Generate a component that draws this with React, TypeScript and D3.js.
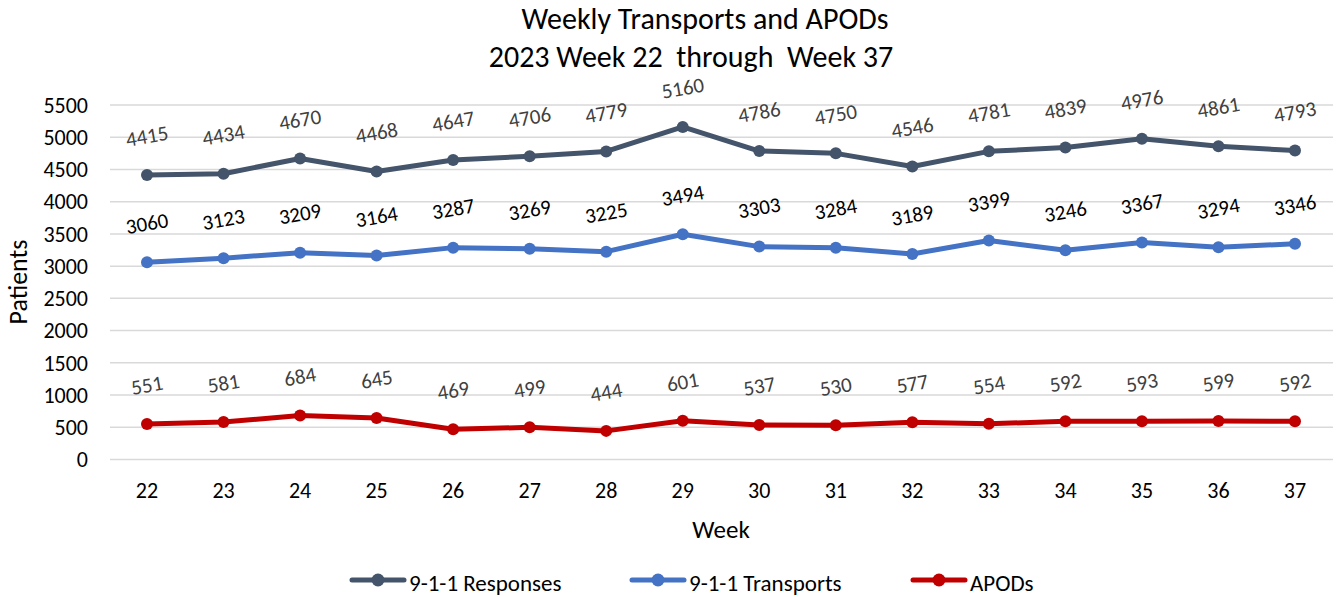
import * as d3 from 'd3'

const weeks = ['22', '23', '24', '25', '26', '27', '28', '29', '30', '31', '32', '33', '34', '35', '36', '37']
const responses = [4415, 4434, 4670, 4468, 4647, 4706, 4779, 5160, 4786, 4750, 4546, 4781, 4839, 4976, 4861, 4793]
const transports = [3060, 3123, 3209, 3164, 3287, 3269, 3225, 3494, 3303, 3284, 3189, 3399, 3246, 3367, 3294, 3346]
const apods = [551, 581, 684, 645, 469, 499, 444, 601, 537, 530, 577, 554, 592, 593, 599, 592]
const yTicks = [0, 500, 1000, 1500, 2000, 2500, 3000, 3500, 4000, 4500, 5000, 5500]

const FONT = "Carlito, Calibri, Lato, 'Liberation Sans', sans-serif"

const series = [
    { name: '9-1-1 Responses', values: responses, color: '#44546A', labelColor: '#404040' },
    { name: '9-1-1 Transports', values: transports, color: '#4472C4', labelColor: '#000000' },
    { name: 'APODs', values: apods, color: '#C00000', labelColor: '#404040' },
]

const legendX = [352, 632, 913]

export default function App() {
    const width = 1336
    const height = 597

    const x = d3.scalePoint<string>().domain(weeks).range([147, 1295])
    const y = d3.scaleLinear().domain([0, 5500]).range([459.5, 105])

    const line = d3.line<number>()
        .x((_, i) => x(weeks[i]) as number)
        .y(d => y(d))

    return (
        <svg width={width} height={height} style={{ position: 'absolute', left: 0, top: 0, background: '#fff' }}
             fontFamily={FONT}>
            <text x={705} y={29} textAnchor="middle" fontSize={30} fill="#000">Weekly Transports and APODs</text>
            <text x={691} y={67} textAnchor="middle" fontSize={30} fill="#000" style={{ whiteSpace: 'pre' }}>
                2023 Week 22  through  Week 37
            </text>

            {/* grid + y ticks */}
            {yTicks.map(t => (
                <g key={t}>
                    <line x1={110} x2={1333} y1={y(t)} y2={y(t)} stroke="#D9D9D9" strokeWidth={1.5} />
                    <text x={88} y={y(t)} dy="0.35em" textAnchor="end" fontSize={22} fill="#000">{t}</text>
                </g>
            ))}

            {weeks.map(w => (
                <text key={w} x={x(w)} y={498} textAnchor="middle" fontSize={22} fill="#000">{w}</text>
            ))}

            <text x={721} y={538} textAnchor="middle" fontSize={25} fill="#000">Week</text>
            <text transform={`translate(27, 282) rotate(-90)`} textAnchor="middle" fontSize={26} fill="#000">Patients</text>

            {series.map(s => (
                <g key={s.name}>
                    <path d={line(s.values) ?? ''} fill="none" stroke={s.color} strokeWidth={5} strokeLinejoin="round" />
                    {s.values.map((v, i) => (
                        <circle key={i} cx={x(weeks[i])} cy={y(v)} r={6} fill={s.color} />
                    ))}
                    {s.values.map((v, i) => (
                        <text key={'l' + i}
                              transform={`translate(${x(weeks[i])}, ${y(v) - 39}) rotate(-10)`}
                              textAnchor="middle" dy="0.35em" fontSize={21} fill={s.labelColor}>
                            {v}
                        </text>
                    ))}
                </g>
            ))}

            {/* legend */}
            {series.map((s, i) => (
                <g key={'lg' + s.name} transform={`translate(${legendX[i]}, 580)`}>
                    <line x1={0} x2={52} y1={0} y2={0} stroke={s.color} strokeWidth={5} strokeLinecap="round" />
                    <circle cx={26} cy={0} r={6.5} fill={s.color} />
                    <text x={57} y={11} fontSize={23} fill="#000">{s.name}</text>
                </g>
            ))}
        </svg>
    )
}
